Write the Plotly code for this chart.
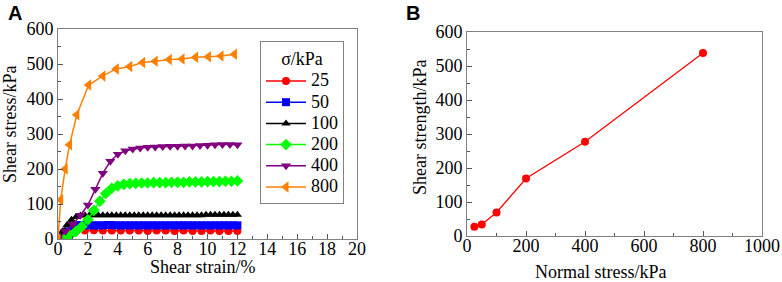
import plotly.graph_objects as go

# ---------------- Panel A data ----------------
strain_25 = [0.0, 0.6, 1.2, 1.8, 2.4, 3.0, 3.6, 4.2, 4.8, 5.4, 6.0, 6.6, 7.2, 7.8, 8.4, 9.0, 9.6, 10.2, 10.8, 11.4, 12.0]
stress_25 = [0, 13, 22, 24, 25, 24, 24, 24, 24, 24, 23, 24, 24, 23, 24, 23, 23, 24, 23, 23, 23]

strain_50 = [0.0, 0.3, 0.6, 0.9, 1.2, 1.5, 1.8, 2.1, 2.4, 2.7, 3.0, 3.3, 3.6, 3.9, 4.2, 4.5, 4.8, 5.1, 5.4, 5.7,
             6.0, 6.3, 6.6, 6.9, 7.2, 7.5, 7.8, 8.1, 8.4, 8.7, 9.0, 9.3, 9.6, 9.9, 10.2, 10.5, 10.8, 11.1, 11.4, 11.7, 12.0]
stress_50 = [0, 9, 21, 32, 38, 40, 40, 39, 39, 39, 39, 40, 40, 39, 39, 39, 39, 39, 39, 39,
             39, 39, 39, 39, 39, 39, 39, 39, 39, 39, 39, 39, 39, 39, 39, 39, 39, 39, 39, 39, 39]

strain_100 = [0.0, 0.3, 0.6, 0.9, 1.2, 1.5, 1.8, 2.1, 2.4, 2.7, 3.0, 3.3, 3.6, 3.9, 4.2, 4.5, 4.8, 5.1, 5.4, 5.7,
              6.0, 6.3, 6.6, 6.9, 7.2, 7.5, 7.8, 8.1, 8.4, 8.7, 9.0, 9.3, 9.6, 9.9, 10.2, 10.5, 10.8, 11.1, 11.4, 11.7, 12.0]
stress_100 = [0, 22, 40, 55, 63, 67, 68, 68, 68, 68, 68, 68, 68, 68, 68, 68, 68, 68, 68, 68,
              68, 68, 68, 68, 68, 68, 68, 68, 68, 68, 68, 68, 68, 69, 69, 69, 69, 69, 69, 69, 69]

strain_200 = [0.4, 0.8, 1.2, 1.6, 2.0, 2.4, 2.8, 3.2, 3.6, 4.0, 4.4, 4.8, 5.2, 5.6, 6.0,
              6.4, 6.8, 7.2, 7.6, 8.0, 8.4, 8.8, 9.2, 9.6, 10.0, 10.4, 10.8, 11.2, 11.6, 12.0]
stress_200 = [0, 10, 22, 36, 55, 82, 108, 130, 145, 152, 156, 158, 159, 160, 160,
              161, 161, 161, 162, 162, 162, 163, 163, 163, 164, 164, 164, 165, 165, 166]

strain_400 = [0.0, 0.5, 1.0, 1.5, 2.0, 2.5, 3.0, 3.5, 4.0, 4.5, 5.0, 5.5, 6.0,
              6.5, 7.0, 7.5, 8.0, 8.5, 9.0, 9.5, 10.0, 10.5, 11.0, 11.5, 12.0]
stress_400 = [0, 22, 42, 68, 97, 142, 188, 222, 242, 252, 257, 260, 262,
              263, 264, 265, 265, 266, 266, 267, 268, 269, 270, 270, 269]

strain_800 = [0.0, 0.18, 0.48, 0.77, 1.26, 2.05, 3.0, 3.9, 4.8, 5.66, 6.5, 7.44, 8.3, 9.2, 10.06, 10.9, 11.8]
stress_800 = [0, 112, 200, 269, 355, 440, 466, 486, 493, 504, 508, 513, 514, 519, 521, 523, 528]

legend_labels = ["25", "50", "100", "200", "400", "800"]

# ---------------- Panel B data ----------------
normal_stress = [25, 50, 100, 200, 400, 800]
shear_strength = [27, 34, 69, 169, 277, 538]

SERIF = "Liberation Serif, Times New Roman, serif"
SANS = "Liberation Sans, Arial, sans-serif"
AXCOL = "#808080"
TICKCOL = "#555555"

series = [
    (strain_25, stress_25, "#FF0000", "circle", 8),
    (strain_50, stress_50, "#0000FF", "square", 8),
    (strain_100, stress_100, "#000000", "triangle-up", 8),
    (strain_200, stress_200, "#00FF00", "diamond", 9),
    (strain_400, stress_400, "#800080", "triangle-down", 9),
    (strain_800, stress_800, "#FF8000", "triangle-left", 10),
]

fig = go.Figure()
for label, (xs, ys, col, sym, sz) in zip(legend_labels, series):
    fig.add_trace(go.Scatter(
        x=xs, y=ys, name='<span style="font-size:18px">' + label + '</span>',
        mode="lines+markers",
        line=dict(color=col, width=1.5),
        marker=dict(color=col, symbol=sym, size=sz, line=dict(width=0)),
        xaxis="x", yaxis="y", showlegend=True,
    ))

fig.add_trace(go.Scatter(
    x=normal_stress, y=shear_strength, mode="lines+markers",
    line=dict(color="#FF0000", width=1.3),
    marker=dict(color="#FF0000", symbol="circle", size=8),
    xaxis="x2", yaxis="y2", showlegend=False,
))

W, H = 782, 282


def axis_common(**kw):
    d = dict(
        showline=True, linecolor=AXCOL, linewidth=1, mirror=True,
        ticks="inside", ticklen=5, tickcolor=TICKCOL, tickwidth=1,
        showgrid=False, zeroline=False,
        tickfont=dict(family=SERIF, size=18, color="black"),
        automargin=False,
    )
    d.update(kw)
    return d


def ann(text, x, y, angle=0, size=18, family=SERIF):
    return dict(text=text, x=x / W, y=1 - y / H, xref="paper", yref="paper",
                xanchor="center", yanchor="middle", showarrow=False, textangle=angle,
                font=dict(family=family, size=size, color="black"))


fig.update_layout(
    width=W, height=H,
    margin=dict(l=0, r=0, t=0, b=0),
    paper_bgcolor="white", plot_bgcolor="white",
    font=dict(family=SERIF, size=18, color="black"),
    xaxis=axis_common(
        domain=[58 / W, 357 / W], range=[0, 20], dtick=2, tick0=0,
        minor=dict(ticks="inside", ticklen=3, dtick=1, tickcolor=TICKCOL),
        ticklabelstandoff=-7, anchor="y",
    ),
    yaxis=axis_common(
        domain=[1 - 239 / H, 1 - 29 / H], range=[0, 600], dtick=100, tick0=0,
        minor=dict(ticks="inside", ticklen=3, dtick=50, tickcolor=TICKCOL),
        anchor="x",
    ),
    xaxis2=axis_common(
        domain=[467 / W, 762 / W], range=[0, 1000], dtick=200, tick0=0,
        minor=dict(ticks="inside", ticklen=3, dtick=100, tickcolor=TICKCOL),
        ticklabelstandoff=-7, anchor="y2",
    ),
    yaxis2=axis_common(
        domain=[1 - 236 / H, 1 - 32 / H], range=[0, 600], dtick=100, tick0=0,
        minor=dict(ticks="inside", ticklen=3, dtick=50, tickcolor=TICKCOL),
        anchor="x2",
    ),
    legend=dict(
        x=260 / W, y=1 - 41 / H, xanchor="left", yanchor="top",
        bgcolor="white", bordercolor=AXCOL, borderwidth=1,
        font=dict(family=SERIF, size=14, color="black"),
        title=dict(text="σ/kPa", side="top center", font=dict(family=SERIF, size=18)),
        tracegroupgap=0, itemwidth=40,
    ),
    annotations=[
        ann("<b>A</b>", 15, 13, size=20, family=SANS),
        ann("<b>B</b>", 413, 13, size=20, family=SANS),
        ann("Shear strain/%", 202, 267),
        ann("Shear stress/kPa", 10, 125, angle=-90),
        ann("Normal stress/kPa", 600, 272),
        ann("Shear strength/kPa", 420, 128, angle=-90),
    ],
)

fig.write_html("out.html", config={"displayModeBar": False},
               post_script="document.body.style.margin='0';document.body.style.padding='0';")
